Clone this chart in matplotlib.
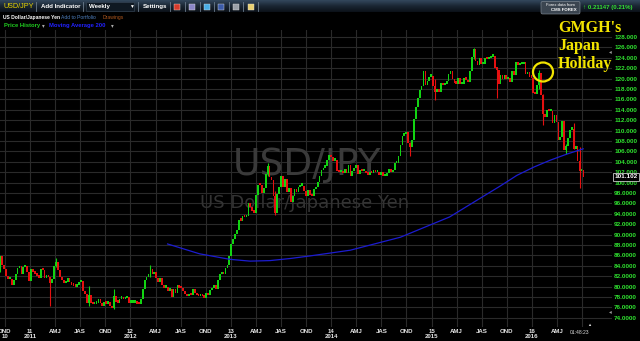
import numpy as np
import pandas as pd
import matplotlib
matplotlib.use("Agg")
import matplotlib.pyplot as plt
from matplotlib.patches import Ellipse, Rectangle, FancyBboxPatch
from matplotlib.colors import LinearSegmentedColormap

# weekly USD/JPY closes, one value per week (week ending Friday)
first_week = "2010-09-17"
first_open = 83.9
closes_2010 = [85.8, 84.2, 83.3, 82.0, 81.4, 81.4, 80.4, 81.2, 82.5, 83.5, 84.0, 82.5,
               83.8, 84.0, 82.9, 81.1]
closes_2011 = [83.3, 82.9, 82.5, 82.1, 81.7, 83.4, 83.1, 81.7, 82.3, 81.8, 80.6, 81.5,
               84.0, 84.8, 83.1, 81.9, 81.2, 80.6, 80.8, 81.7, 80.8, 80.4, 80.2, 80.0,
               80.4, 80.8, 81.0, 79.1, 78.5, 76.8, 78.4, 76.8, 76.6, 76.7, 76.8, 77.6,
               76.8, 76.3, 77.1, 76.7, 77.0, 76.2, 75.8, 78.2, 77.0, 76.9, 77.7, 77.9,
               77.6, 77.8, 78.0, 76.9]
closes_2012 = [76.9, 76.9, 76.9, 76.7, 76.6, 77.6, 79.5, 81.2, 81.8, 82.4, 83.4, 82.4,
               82.9, 81.6, 80.9, 81.6, 80.3, 79.8, 79.9, 79.2, 79.6, 78.0, 79.5, 78.7,
               80.4, 79.8, 79.7, 79.2, 78.5, 78.2, 78.4, 78.3, 79.6, 78.7, 78.3, 78.2,
               78.4, 78.2, 77.9, 78.7, 78.4, 79.3, 79.7, 80.4, 79.5, 81.3, 82.4, 82.5,
               82.4, 83.5, 84.2, 85.8]
closes_2013 = [88.2, 89.2, 90.1, 90.8, 92.8, 92.7, 93.5, 93.4, 93.6, 96.0, 95.3, 94.5,
               94.2, 97.6, 99.6, 99.5, 98.0, 99.0, 101.6, 103.2, 101.0, 100.5, 97.5, 94.1,
               97.9, 99.2, 101.2, 99.2, 100.6, 98.2, 98.9, 96.2, 97.5, 98.7, 98.2, 99.1,
               99.4, 99.4, 98.3, 97.5, 98.6, 97.7, 97.4, 98.7, 99.1, 100.2, 101.2, 102.4,
               102.9, 103.2, 104.4, 105.3]
closes_2014 = [104.9, 104.2, 104.3, 102.3, 102.0, 102.3, 101.8, 102.6, 101.8, 103.3, 101.3, 102.3,
               102.8, 103.3, 101.6, 102.4, 102.2, 102.2, 101.8, 101.5, 101.9, 101.8, 102.5, 102.0,
               102.0, 101.4, 102.0, 101.3, 101.3, 101.8, 102.6, 102.0, 102.4, 103.8, 103.8, 105.1,
               107.3, 109.0, 109.3, 109.8, 107.6, 106.9, 108.1, 112.3, 114.6, 116.3, 117.8, 118.6,
               121.4, 118.8, 119.5, 120.4]
closes_2015 = [120.5, 118.5, 117.5, 117.7, 117.5, 119.1, 118.7, 119.0, 119.6, 120.8, 121.4, 120.0,
               119.1, 119.0, 120.2, 118.9, 118.9, 120.2, 119.8, 119.3, 121.5, 124.1, 125.6, 123.4,
               122.7, 123.9, 122.8, 122.8, 124.0, 123.8, 123.9, 124.2, 124.3, 122.0, 121.7, 119.0,
               120.6, 120.0, 120.6, 119.9, 120.2, 119.4, 121.5, 120.6, 123.2, 122.6, 122.8, 122.8,
               123.1, 120.9, 121.2, 120.3]
closes_2016 = [120.2, 117.2, 117.0, 118.8, 121.1, 116.8, 113.2, 112.6, 114.0, 113.8, 113.8, 111.5,
               113.0, 111.7, 108.1, 108.7, 111.8, 106.3, 107.1, 108.6, 110.2, 110.3, 106.5, 107.0,
               104.2, 102.2, 102.5, 101.1]
closes = closes_2010 + closes_2011 + closes_2012 + closes_2013 + closes_2014 + closes_2015 + closes_2016

# weeks with long shadows
wick_weeks = ["2010-09-17", "2011-03-18", "2011-04-08", "2011-08-05", "2011-11-04",
              "2012-03-16", "2013-05-17", "2013-06-14", "2014-10-17", "2015-01-16",
              "2015-06-05", "2015-08-28", "2016-01-29", "2016-02-12", "2016-05-06",
              "2016-06-03", "2016-06-24"]
wick_highs = [85.9, 81.9, 85.5, 80.2, 79.5, 84.2, 103.7, 98.4, 107.9, 119.9,
              125.9, 122.0, 121.7, 117.0, 107.5, 111.4, 106.8]
wick_lows = [82.9, 76.3, 83.7, 76.3, 75.6, 81.8, 101.3, 93.8, 105.2, 115.9,
             123.8, 116.2, 118.0, 111.0, 105.5, 106.5, 99.0]

# moving average 200
ma_years = [2012.37, 2012.69, 2012.99, 2013.19, 2013.39, 2013.59, 2013.79, 2014.19,
            2014.69, 2015.18, 2015.51, 2015.68, 2015.85, 2016.02, 2016.18, 2016.35, 2016.51]
ma_values = [88.2, 86.3, 85.25, 84.9, 85.0, 85.4, 85.9, 87.0,
             89.5, 93.4, 97.3, 99.3, 101.4, 103.0, 104.3, 105.5, 106.5]

price_ticks = list(range(74, 130, 2))
quarter_labels = ["OND\n10", "11\n2011", "AMJ", "JAS", "OND", "12\n2012", "AMJ", "JAS", "OND",
                  "13\n2013", "AMJ", "JAS", "OND", "14\n2014", "AMJ", "JAS", "OND",
                  "15\n2015", "AMJ", "JAS", "OND", "16\n2016", "AMJ", ""]
last_price = "101.102"
change_text = "\u2191 0.21147 (0.21%)"

GREEN = "#12d412"
RED = "#e51010"
YELLOW = "#f2e400"
SANS = ["Liberation Sans", "DejaVu Sans"]


def to_year(d):
    return d.year + (d.dayofyear - 3) / 365.25


dates = pd.date_range(first_week, periods=len(closes), freq="7D")
xs = np.array([to_year(d) for d in dates])
c = np.array(closes)
o = np.concatenate([[first_open], c[:-1]])
up = c >= o
colors = np.where(up, GREEN, RED)

fig = plt.figure(figsize=(6.4, 3.41), dpi=100, facecolor="black")
ax = fig.add_axes([0, 1 - 327 / 341, 612 / 640, 297 / 341])
ax.set_facecolor("black")
ax.set_xlim(2010.701, 2016.797)
ax.set_ylim(72.23, 129.35)
for s in ax.spines.values():
    s.set_visible(False)

ax.set_axisbelow(True)
ax.grid(True, color="#2a2a2a", lw=0.8)

# watermark
ax.text(307 / 640, 1 - 175 / 341, "USD/JPY", transform=fig.transFigure, ha="center",
        va="baseline", fontsize=27, color="#3a3a3a", family="DejaVu Sans", zorder=0.7)
ax.text(305 / 640, 1 - 208 / 341, "US Dollar/Japanese Yen", transform=fig.transFigure,
        ha="center", va="baseline", fontsize=13, color="#333333", family="DejaVu Sans", zorder=0.7)

# shadows
for w, hi, lo in zip(wick_weeks, wick_highs, wick_lows):
    i = dates.get_loc(pd.Timestamp(w))
    ax.vlines(xs[i], lo, hi, color=colors[i], lw=0.8, zorder=2)

# candle bodies
bottoms = np.minimum(o, c)
heights = np.maximum(np.abs(c - o), 0.45)
ax.bar(xs, heights, bottom=bottoms, width=6.3 / 365.25, color=colors, linewidth=0, zorder=3)

ax.plot(ma_years, ma_values, color="#1c1cd0", lw=0.9, zorder=4)

# axes ticks
qpos = 2010.75 + 0.25 * np.arange(len(quarter_labels))
ax.set_xticks(qpos)
ax.set_xticklabels(quarter_labels, fontsize=4.4, color="#e6e6e6", fontweight="bold",
                   family=SANS, linespacing=1.15)
ax.yaxis.tick_right()
ax.set_yticks(price_ticks)
ax.set_yticklabels([f"{v:.3f}" if v >= 100 else f"{v:.4f}" for v in price_ticks],
                   fontsize=4.6, color="#2fe02f", fontweight="bold", family=SANS)
ax.tick_params(axis="both", length=0)
ax.tick_params(axis="x", pad=1.2)
ax.tick_params(axis="y", pad=1.5)

# pixel overlay for the page furniture
deco = fig.add_axes([0, 0, 1, 1], zorder=5)
deco.set_facecolor("none")
grad = np.linspace(0, 1, 24).reshape(-1, 1)
cmap = LinearSegmentedColormap.from_list("bar", ["#33475c", "#1a2633", "#0c1219"])
deco.imshow(grad, extent=(0, 640, 12, 0), aspect="auto", cmap=cmap, zorder=0)
deco.set_xlim(0, 640)
deco.set_ylim(341, 0)
deco.axis("off")

deco.text(3, 6.8, "USD/JPY", color="#e8d400", fontsize=5.2, va="center", family=SANS)
for sx in [36, 83, 138, 170, 185, 200, 214, 229, 243, 258]:
    deco.plot([sx, sx], [2, 11], color="#6c7c8c", lw=0.6)
deco.text(41, 6.8, "Add Indicator", color="white", fontsize=4.4, va="center",
          fontweight="bold", family=SANS)
deco.add_patch(Rectangle((86, 2), 48, 9, facecolor="#0f1822", edgecolor="#3a4a5a", lw=0.4))
deco.text(89, 6.8, "Weekly", color="white", fontsize=4.4, va="center", fontweight="bold", family=SANS)
deco.text(131, 6.8, "\u25bc", color="white", fontsize=3.5, va="center", ha="center", family=SANS)
deco.text(143, 6.8, "Settings", color="white", fontsize=4.4, va="center", fontweight="bold", family=SANS)
for ix, col in zip([177, 192, 207, 221, 236, 251],
                   ["#d83a2a", "#8a86c8", "#49aee6", "#3b5ba8", "#9aa0a8", "#e8d070"]):
    deco.add_patch(Rectangle((ix - 3, 3.5), 6, 6, facecolor=col, edgecolor="#dddddd", lw=0.3))

deco.add_patch(FancyBboxPatch((541, 1.5), 39, 12.5, boxstyle="round,pad=0,rounding_size=1.5",
                              facecolor="#3b4550", edgecolor="#8a949e", lw=0.4))
deco.text(560.5, 4.6, "Forex data from", color="white", fontsize=3, ha="center", va="center", family=SANS)
deco.text(564, 10.4, "CMS FOREX", color="white", fontsize=3.2, ha="center", va="center",
          fontweight="bold", family=SANS)
deco.text(583, 7.3, change_text, color="#33dd33", fontsize=4.4, va="center", fontweight="bold", family=SANS)

deco.text(3, 17.6, "US Dollar/Japanese Yen", color="white", fontsize=3.6, va="center",
          fontweight="bold", family=SANS)
deco.text(61, 17.6, "Add to Portfolio", color="#4f80c0", fontsize=3.6, va="center", family=SANS)
deco.text(103, 17.6, "Drawings", color="#b0581e", fontsize=3.6, va="center", family=SANS)
deco.text(4, 26, "Price History", color="#20cc20", fontsize=4.2, va="center", fontweight="bold", family=SANS)
deco.text(43, 26, "\u25be", color="#aaaaaa", fontsize=4, va="center", ha="center", family=SANS)
deco.text(49, 26, "Moving Average 200", color="#2222ff", fontsize=4.2, va="center",
          fontweight="bold", family=SANS)
deco.text(112, 26, "\u25be", color="#aaaaaa", fontsize=4, va="center", ha="center", family=SANS)

# annotation
serif = ["Liberation Serif", "DejaVu Serif"]
deco.text(558, 32, "GMGH's", color=YELLOW, fontsize=11.5, fontweight="bold", family=serif, va="baseline")
deco.text(558, 50.5, "Japan", color=YELLOW, fontsize=11.5, fontweight="bold", family=serif, va="baseline")
deco.text(558, 67.5, "Holiday", color=YELLOW, fontsize=11.5, fontweight="bold", family=serif, va="baseline")
deco.add_patch(Ellipse((543, 72), 20, 19, fill=False, edgecolor=YELLOW, lw=1.6))

# last price box and small markers
deco.text(626, 177, last_price, color="white", fontsize=4.6, ha="center", va="center",
          fontweight="bold", family=SANS,
          bbox=dict(boxstyle="square,pad=0.25", facecolor="black", edgecolor="#c8c8c8", lw=0.6))
deco.text(580, 333, "01:48:23", color="#dddddd", fontsize=3.6, ha="center", va="center", family=SANS)
deco.text(589, 325, "\u25b2", color="#dddddd", fontsize=3, ha="center", va="center", family=SANS)
deco.text(610, 52, "\u25c2", color="#9a9a9a", fontsize=4, ha="center", va="center", family=SANS)
deco.text(610, 312, "\u25c2", color="#9a9a9a", fontsize=4, ha="center", va="center", family=SANS)

fig.savefig("out.png", dpi=100, facecolor="black")
